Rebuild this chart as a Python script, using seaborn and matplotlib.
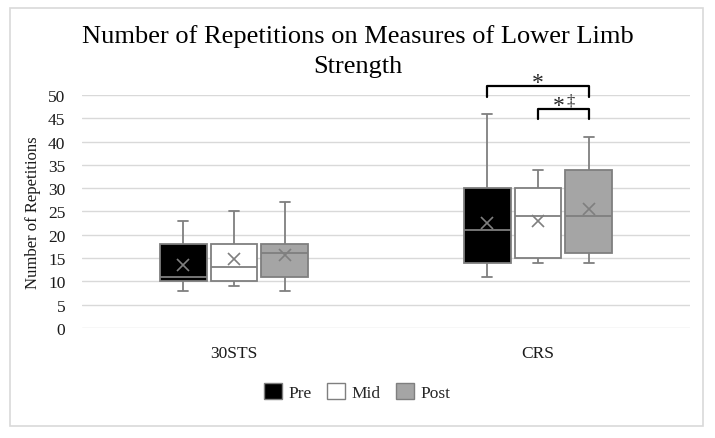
import numpy as np
import pandas as pd
import seaborn as sns
import matplotlib.pyplot as plt
from matplotlib.patches import Patch, Rectangle

# --- DATA ---
tests = ["30STS", "CRS"]
phases = ["Pre", "Mid", "Post"]

# five-number summary per box: min, q1, median, q3, max
sts_pre = [8, 10, 11, 18, 23]
sts_mid = [9, 10, 13, 18, 25]
sts_post = [8, 11, 16, 18, 27]
crs_pre = [11, 14, 21, 30, 46]
crs_mid = [14, 15, 24, 30, 34]
crs_post = [14, 16, 24, 34, 41]

# means (the x markers)
sts_means = [13.5, 14.7, 15.7]
crs_means = [22.6, 22.9, 25.6]

y_ticks = list(range(0, 55, 5))

# --- BUILD LONG TABLES ---
summaries = {
    ("30STS", "Pre"): sts_pre, ("30STS", "Mid"): sts_mid, ("30STS", "Post"): sts_post,
    ("CRS", "Pre"): crs_pre, ("CRS", "Mid"): crs_mid, ("CRS", "Post"): crs_post,
}
rows = []
for (test, phase), vals in summaries.items():
    for v in vals:
        rows.append({"test": test, "phase": phase, "reps": v})
df = pd.DataFrame(rows)

mean_rows = []
for test, means in zip(tests, [sts_means, crs_means]):
    for phase, m in zip(phases, means):
        mean_rows.append({"test": test, "phase": phase, "mean": m})
df_means = pd.DataFrame(mean_rows)

# --- STYLE ---
sns.set_style("white")
plt.rcParams["font.family"] = ["Liberation Serif", "DejaVu Serif"]

line_grey = "#7f7f7f"
grid_grey = "#d9d9d9"
text_col = "#1a1a1a"
fills = {"Pre": "#000000", "Mid": "#ffffff", "Post": "#a5a5a5"}
box_width = 0.5

fig = plt.figure(figsize=(7.15, 4.39), dpi=100)
ax = fig.add_axes([0.1147, 0.2506, 0.8503, 0.5307])

sns.boxplot(data=df, x="test", y="reps", hue="phase", order=tests, hue_order=phases,
            palette=fills, linecolor=line_grey, linewidth=1.3, width=box_width, gap=0.08,
            whis=(0, 100), fliersize=0, legend=False, ax=ax)

sns.pointplot(data=df_means, x="test", y="mean", hue="phase", order=tests, hue_order=phases,
              palette=[line_grey] * 3, dodge=box_width * 2 / 3, markers="x", linestyles="none",
              errorbar=None, markersize=9, markeredgewidth=1.2, legend=False, ax=ax)

# shorter whisker caps like the Excel chart
for line in ax.lines:
    xs = line.get_xdata()
    ys = line.get_ydata()
    if len(xs) == 2 and ys[0] == ys[1] and xs[0] != xs[1]:
        xc = (xs[0] + xs[1]) / 2
        half = abs(xs[1] - xs[0]) / 2
        if half < 0.06:
            line.set_xdata([xc - 0.016, xc + 0.016])

ax.set_ylim(0, 50)
ax.set_xlim(-0.5, 1.5)
ax.set_yticks(y_ticks)
ax.yaxis.grid(True, color=grid_grey, linewidth=1)
ax.set_axisbelow(True)
for s in ax.spines.values():
    s.set_visible(False)
ax.tick_params(axis="both", length=0, labelsize=12.5, colors=text_col)
ax.tick_params(axis="y", pad=12)
ax.tick_params(axis="x", pad=12)
ax.set_xlabel("")
ax.set_ylabel("Number of Repetitions", fontsize=12, color=text_col, labelpad=5)

# significance brackets on CRS
slot = box_width / 3
crs_x = tests.index("CRS")
pre_x, mid_x, post_x = crs_x - slot, crs_x, crs_x + slot

ax.plot([pre_x, pre_x, post_x, post_x], [49.6, 52.0, 52.0, 49.6], color="black",
        linewidth=1.6, clip_on=False)
ax.text((pre_x + post_x) / 2, 50.5, "*", ha="center", va="bottom", fontsize=17, clip_on=False)

ax.plot([mid_x, mid_x, post_x, post_x], [44.8, 47.1, 47.1, 44.8], color="black",
        linewidth=1.6, clip_on=False)
ax.text((mid_x + post_x) / 2 + 0.005, 45.4, "*", ha="right", va="bottom", fontsize=17,
        clip_on=False)
ax.text((mid_x + post_x) / 2 + 0.012, 47.0, "‡", ha="left", va="bottom", fontsize=12,
        clip_on=False)

fig.suptitle("Number of Repetitions on Measures of Lower Limb\nStrength", y=1 - 25 / 439,
             va="top", fontsize=19, color="black", linespacing=1.45)

handles = [Patch(facecolor=fills[p], edgecolor=line_grey, linewidth=1, label=p) for p in phases]
fig.legend(handles=handles, loc="center", bbox_to_anchor=(0.5, 0.105), ncol=3, frameon=False,
           fontsize=12.5, handlelength=1.0, handleheight=1.0, handletextpad=0.4,
           columnspacing=0.9)

# outer chart border
fig.patches.append(Rectangle((10 / 715, 1 - 427 / 439), 693 / 715, 418 / 439,
                             transform=fig.transFigure, fill=False, edgecolor=grid_grey,
                             linewidth=1.2))

plt.savefig("out.png", dpi=100)
